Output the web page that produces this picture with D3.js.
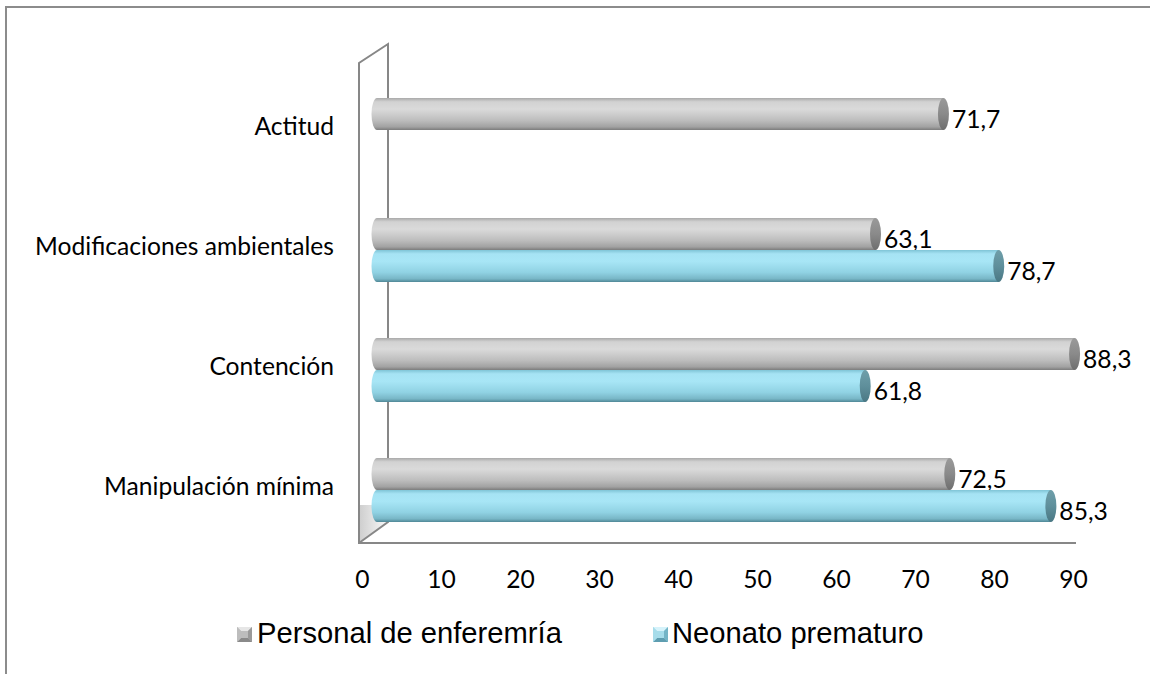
<!DOCTYPE html>
<html>
<head>
<meta charset="utf-8">
<script src="https://cdn.jsdelivr.net/npm/d3@7"></script>
<style>
  html, body { margin: 0; padding: 0; background: #fff; }
  svg { display: block; }
</style>
</head>
<body>
<svg id="chart" width="1150" height="674"></svg>
<script>
// ---- data ----
const categories = ["Actitud", "Modificaciones ambientales", "Contención", "Manipulación mínima"];
const personalValues = [71.7, 63.1, 88.3, 72.5];
const neonatoValues = [null, 78.7, 61.8, 85.3];
const xTickValues = [0, 10, 20, 30, 40, 50, 60, 70, 80, 90];
const seriesNames = ["Personal de enferemría", "Neonato prematuro"];

const svg = d3.select("#chart");
const labelFont = "Lato, 'Open Sans', sans-serif";
const legendFont = "'Liberation Sans', Arial, sans-serif";

// fit font size to target width
function fitSize(text, family, targetWidth) {
  const t = svg.append("text").attr("font-family", family).attr("font-size", 20).text(text);
  const w = t.node().getComputedTextLength();
  t.remove();
  return 20 * targetWidth / w;
}
const catSize = fitSize("Modificaciones ambientales", labelFont, 299);
const legSize = fitSize("Personal de enferemría", legendFont, 305);

// ---- defs ----
const defs = svg.append("defs");
function vGrad(id, stops) {
  const g = defs.append("linearGradient").attr("id", id)
    .attr("x1", 0).attr("y1", 0).attr("x2", 0).attr("y2", 1);
  stops.forEach(s => g.append("stop").attr("offset", s[0]).attr("stop-color", s[1]));
}
vGrad("gBody", [[0, "#a9a9a9"], [0.12, "#d2d2d2"], [0.35, "#dadada"], [0.7, "#bdbdbd"], [0.9, "#a2a2a2"], [1, "#7c7c7c"]]);
vGrad("bBody", [[0, "#7fc4d6"], [0.12, "#a6e3f4"], [0.35, "#a8e6f6"], [0.7, "#90d2e3"], [0.9, "#78b6c6"], [1, "#4f8796"]]);
vGrad("gCap", [[0, "#9a9a9a"], [0.5, "#8a8a8a"], [1, "#6e6e6e"]]);
vGrad("bCap", [[0, "#6f9faa"], [0.5, "#5f8f9b"], [1, "#4a7884"]]);
const wallG = defs.append("linearGradient").attr("id", "wallShade")
  .attr("x1", 0).attr("y1", 0).attr("x2", 1).attr("y2", 0);
wallG.append("stop").attr("offset", 0).attr("stop-color", "#cfcfcf");
wallG.append("stop").attr("offset", 1).attr("stop-color", "#fafafa");

// ---- outer border ----
svg.append("path").attr("d", "M6,674 L6,7 L1150,7")
  .attr("fill", "none").attr("stroke", "#8c8c8c").attr("stroke-width", 2);

// ---- scales ----
const x = d3.scaleLinear().domain([0, 90]).range([362, 1073]);
const y = d3.scaleBand().domain(categories).range([70, 550]).padding(0);
const depthX = 15;  // bar position in depth
const barH = 32;
const capRx = 5.5;

// ---- 3D frame ----
svg.append("polygon")
  .attr("points", "360,505 388,505 388,522 360,542")
  .attr("fill", "url(#wallShade)");
const frame = svg.append("g").attr("fill", "none").attr("stroke", "#878787").attr("stroke-width", 2);
frame.append("path").attr("d", "M359,543 L359,63 L388,44 L388,522 L359,543");
frame.append("line").attr("x1", 358).attr("x2", 1076).attr("y1", 543).attr("y2", 543);

// ---- bars ----
function cylinder(g, cy, v, bodyFill, capFill) {
  const x0 = x(0) + depthX, x1 = x(v) + depthX;
  const top = cy - barH / 2, bot = cy + barH / 2, ry = barH / 2;
  g.append("path")
    .attr("d", `M${x0},${top} L${x1},${top} L${x1},${bot} L${x0},${bot} A${capRx},${ry} 0 0 1 ${x0},${top} Z`)
    .attr("fill", bodyFill);
  g.append("ellipse").attr("cx", x1).attr("cy", cy).attr("rx", capRx).attr("ry", ry)
    .attr("fill", capFill);
}
const barsG = svg.append("g");
const fmt = v => d3.format(".1f")(v).replace(".", ",");
categories.forEach((c, i) => {
  const center = y(c) + y.bandwidth() / 2;
  const pv = personalValues[i], nv = neonatoValues[i];
  if (pv != null) {
    const cy = center - barH / 2;
    cylinder(barsG, cy, pv, "url(#gBody)", "url(#gCap)");
    barsG.append("text").attr("x", x(pv) + depthX + capRx + 3).attr("y", cy + 5)
      .attr("dy", "0.36em").attr("font-family", labelFont).attr("font-size", catSize)
      .attr("fill", "#000").text(fmt(pv));
  }
  if (nv != null) {
    const cy = center + barH / 2;
    cylinder(barsG, cy, nv, "url(#bBody)", "url(#bCap)");
    barsG.append("text").attr("x", x(nv) + depthX + capRx + 3).attr("y", cy + 5)
      .attr("dy", "0.36em").attr("font-family", labelFont).attr("font-size", catSize)
      .attr("fill", "#000").text(fmt(nv));
  }
});

// ---- axes ----
const xAxis = svg.append("g").attr("transform", "translate(0,565)")
  .call(d3.axisBottom(x).tickValues(xTickValues).tickSize(0).tickPadding(0));
xAxis.select(".domain").remove();
xAxis.selectAll("text").attr("font-family", labelFont).attr("font-size", catSize)
  .attr("fill", "#000").attr("dy", "0.95em");

const yAxis = svg.append("g").attr("transform", "translate(334,0)")
  .call(d3.axisLeft(y).tickSize(0).tickPadding(0));
yAxis.select(".domain").remove();
yAxis.selectAll("text").attr("font-family", labelFont).attr("font-size", catSize)
  .attr("fill", "#000").attr("dy", "0.2em");

// ---- legend ----
const legendX = [237, 653];
const legendFills = [["#e6e6e6", "#bdbdbd", "#9a9a9a", "#8a8a8a"], ["#d6f3fb", "#a6dcea", "#74b4c6", "#5e9db0"]];
seriesNames.forEach((name, i) => {
  const g = svg.append("g").attr("transform", `translate(${legendX[i]},627)`);
  const s = 15, m = 4;
  const f = legendFills[i];
  g.append("rect").attr("width", s).attr("height", s).attr("fill", f[1]);
  g.append("polygon").attr("points", `0,0 ${s},0 ${s - m},${m} ${m},${m}`).attr("fill", f[0]);
  g.append("polygon").attr("points", `${s},0 ${s},${s} ${s - m},${s - m} ${s - m},${m}`).attr("fill", f[2]);
  g.append("polygon").attr("points", `0,${s} ${s},${s} ${s - m},${s - m} ${m},${s - m}`).attr("fill", f[3]);
  g.append("polygon").attr("points", `0,0 ${m},${m} ${m},${s - m} 0,${s}`).attr("fill", f[1]);
  g.append("text").attr("x", i === 0 ? 20 : 19).attr("y", 16)
    .attr("font-family", legendFont).attr("font-size", legSize).attr("fill", "#000").text(name);
});
</script>
</body>
</html>
